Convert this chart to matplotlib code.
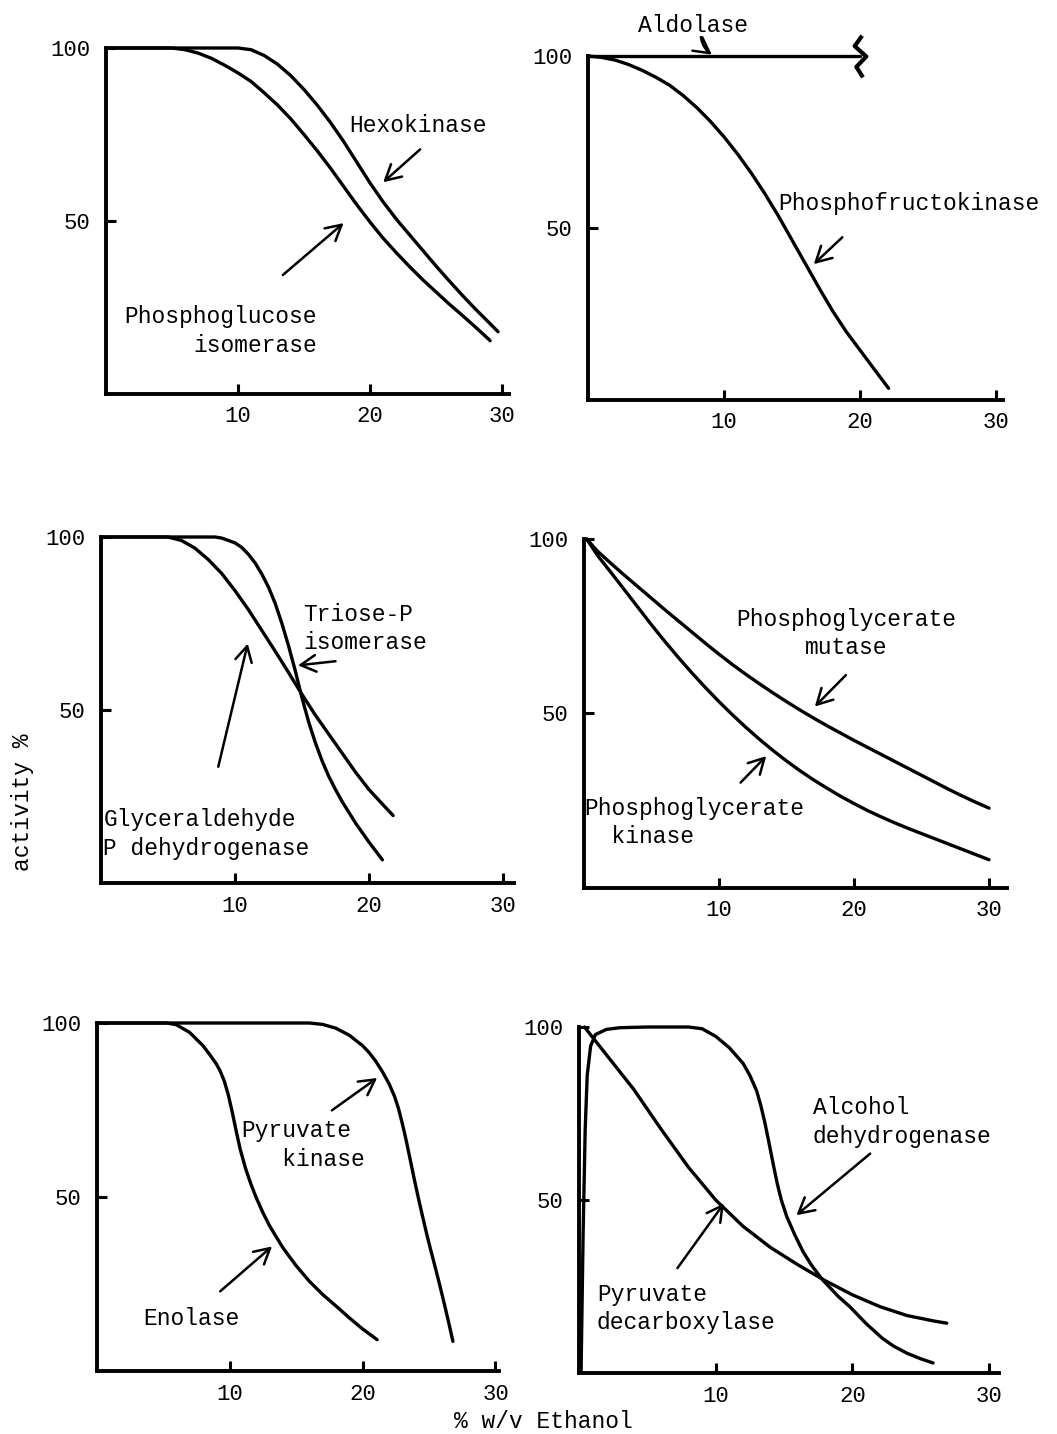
import matplotlib
matplotlib.use("Agg")
import matplotlib.pyplot as plt
from matplotlib.path import Path

plt.rcParams['font.family'] = ['Liberation Mono', 'DejaVu Sans Mono']

# ---------------- data ----------------
# Panel 1
hexo_x = [0, 5, 10, 11, 12, 13, 14, 15, 16, 17, 18, 19, 20, 21, 22, 23, 24, 25, 26, 27, 28, 29, 29.7]
hexo_y = [100, 100, 100, 99.5, 97.8, 95.3, 92, 88, 83.5, 78.5, 73, 67, 61, 55.5, 50.5, 46, 41.5, 37, 32.7, 28.5, 24.5, 20.7, 18]
pgi_x = [0, 5, 6, 7, 8, 9, 10, 11, 12, 13, 14, 15, 16, 17, 18, 19, 20, 21, 22, 23, 24, 25, 26, 27, 28, 29, 29.1]
pgi_y = [100, 100, 99.5, 98.5, 97, 95, 92.8, 90.3, 87, 83.5, 79.5, 75, 70.3, 65.3, 60, 54.7, 49.7, 45, 40.8, 36.8, 33, 29.5, 26, 22.7, 19.3, 15.8, 15.4]

# Panel 2
aldo_x = [0, 20]
aldo_y = [100, 100]
pfk_x = [0, 1, 2, 3, 4, 5, 6, 7, 8, 9, 10, 11, 12, 13, 14, 15, 16, 17, 18, 19, 20, 21, 22.1]
pfk_y = [100, 99.6, 98.8, 97.5, 95.8, 93.8, 91.5, 88.5, 85, 81, 76.5, 71.5, 66, 60, 53.5, 46.5, 39.5, 32.5, 25.8, 19.8, 14.5, 9.2, 3.4]

# Panel 3
tpi_x = [0, 8.5, 9, 10, 10.5, 11, 11.5, 12, 12.5, 13, 13.5, 14, 14.5, 15, 15.5, 16, 16.5, 17, 17.5, 18, 19, 20, 21]
tpi_y = [100, 100, 99.7, 98.3, 97, 95, 92.5, 89.3, 85.5, 80.8, 75, 68.5, 61.3, 53.5, 46.5, 40.5, 35.3, 30.8, 27, 23.5, 17.3, 11.8, 6.7]
gapdh_x = [0, 5, 6, 7, 8, 9, 10, 11, 12, 13, 14, 15, 16, 17, 18, 19, 20, 21, 21.8]
gapdh_y = [100, 100, 99, 96.8, 93.5, 89.5, 84.5, 79, 73, 67, 60.8, 54.5, 48.5, 43, 37.5, 32, 27, 22.8, 19.5]

# Panel 4
pgm_x = [0.2, 1, 2, 3, 4, 5, 6, 7, 8, 9, 10, 11, 12, 13, 14, 15, 16, 17, 18, 19, 20, 21, 22, 23, 24, 25, 26, 27, 28, 29, 30]
pgm_y = [100, 96.5, 93, 89.6, 86.3, 83, 79.7, 76.5, 73.3, 70.1, 67, 64, 61.2, 58.5, 55.9, 53.4, 51, 48.7, 46.5, 44.4, 42.3, 40.3, 38.3, 36.3, 34.3, 32.3, 30.3, 28.3, 26.4, 24.6, 22.9]
pgk_x = [0.2, 1, 2, 3, 4, 5, 6, 7, 8, 9, 10, 11, 12, 13, 14, 15, 16, 17, 18, 19, 20, 21, 22, 23, 24, 25, 26, 27, 28, 29, 30]
pgk_y = [100, 95.3, 90.4, 85.4, 80.4, 75.4, 70.6, 66, 61.6, 57.4, 53.4, 49.6, 46, 42.6, 39.4, 36.4, 33.6, 31, 28.6, 26.3, 24.2, 22.2, 20.4, 18.7, 17.1, 15.6, 14.1, 12.6, 11.1, 9.6, 8.1]

# Panel 5
eno_x = [0, 5.3, 6, 7, 8, 8.5, 9, 9.3, 9.6, 9.9, 10.2, 10.5, 10.8, 11.2, 11.6, 12, 12.5, 13, 14, 15, 16, 17, 18, 19, 20, 21.1]
eno_y = [100, 100, 99.5, 97.3, 93.5, 91, 88.3, 86.2, 83.4, 79.5, 74.5, 69, 63.8, 58.3, 53.8, 49.9, 45.6, 41.8, 35.5, 30.3, 25.8, 22, 18.7, 15.3, 12.1, 9]
pk_x = [0, 16, 17, 18, 19, 20, 20.5, 21, 21.5, 22, 22.4, 22.7, 23.0, 23.3, 23.6, 23.9, 24.2, 24.5, 24.8, 25.1, 25.4, 25.8, 26.2, 26.5, 26.8]
pk_y = [100, 100, 99.6, 98.5, 96.5, 93.5, 91.5, 89, 86, 82.5, 79, 75.5, 71, 66, 60.5, 55, 49.7, 44.7, 39.8, 35.2, 30.8, 24.8, 18.5, 13.6, 8.5]

# Panel 6
adh_x = [0.15, 0.3, 0.45, 0.6, 0.85, 1.2, 2, 3, 5, 8, 9, 10, 11, 12, 12.5, 13, 13.3, 13.6, 13.9, 14.2, 14.5, 14.8, 15.2, 15.8, 16.4, 17, 17.8, 19, 19.8, 21, 22.2, 23, 24, 25, 25.9]
adh_y = [0, 40, 70, 86, 94.5, 97.8, 99.3, 99.8, 100, 100, 99.5, 97.3, 94, 89.5, 86, 81.5, 77.3, 72.3, 66.5, 60.5, 54.8, 50, 45.2, 39.8, 35, 31.2, 27, 22, 19.2, 14.3, 10, 7.8, 5.7, 4.1, 2.9]
pdc_x = [0.4, 2, 4, 6, 8, 10, 12, 14, 16, 18, 20, 22, 24, 26, 26.9]
pdc_y = [100, 92, 82, 70.5, 59.5, 50, 42.4, 36.3, 31.3, 26.7, 22.6, 19.2, 16.6, 15, 14.4]

x_ticks = [10, 20, 30]
x_tick_labels = ['10', '20', '30']
y_ticks = [50, 100]
y_tick_labels = ['50', '100']

# ---------------- layout ----------------
W, H = 1057, 1434
fig = plt.figure(figsize=(W / 100, H / 100), dpi=100)

# (x0 px, baseline px, px per unit x, top(100) px, x max)
specs = [
    (106, 394, 13.2, 48, 30.5),
    (588, 400, 13.6, 56, 30.5),
    (101, 883, 13.4, 537, 30.8),
    (584, 888, 13.5, 539, 31.3),
    (96.5, 1371, 13.3, 1023, 30.3),
    (579, 1373, 13.67, 1027, 30.7),
]

CURVE_LW = 2.4
ARROW_LW = 1.8
FS = 16.5
TFS = 16

axes = []
for (x0, yb, xs, yt, xmax) in specs:
    ax = fig.add_axes([x0 / W, 1 - yb / H, xs * xmax / W, (yb - yt) / H])
    ax.set_xlim(0, xmax)
    ax.set_ylim(0, 100)
    for s in ['top', 'right']:
        ax.spines[s].set_visible(False)
    for s in ['left', 'bottom']:
        ax.spines[s].set_linewidth(2.8)
    ax.set_xticks(x_ticks)
    ax.set_xticklabels(x_tick_labels)
    ax.set_yticks(y_ticks)
    ax.set_yticklabels(y_tick_labels)
    ax.tick_params(axis='both', direction='in', length=7, width=2.2,
                   labelsize=TFS)
    ax.tick_params(axis='x', pad=9)
    ax.tick_params(axis='y', pad=11)
    ax.patch.set_visible(False)
    axes.append(ax)


def curve(ax, x, y, **kw):
    ax.plot(x, y, color='black', lw=CURVE_LW, clip_on=False,
            solid_capstyle='round', solid_joinstyle='round', **kw)


def arrow(ax, tail, head, rad=0.0):
    ax.annotate('', xy=head, xytext=tail, annotation_clip=False,
                arrowprops=dict(arrowstyle='->,head_length=0.55,head_width=0.3',
                                lw=ARROW_LW, color='black', mutation_scale=20,
                                shrinkA=0, shrinkB=0,
                                connectionstyle=f'arc3,rad={rad}'))


def label(ax, x, y, s, ha='left', ma=None):
    ax.text(x, y, s, ha=ha, va='center', fontsize=FS, linespacing=1.3,
            multialignment=ma or ha, clip_on=False)


# Panel 1
ax = axes[0]
curve(ax, hexo_x, hexo_y)
curve(ax, pgi_x, pgi_y)
label(ax, 23.6, 77.5, 'Hexokinase', ha='center')
arrow(ax, (23.8, 70.7), (21.0, 61.2))
label(ax, 16.0, 18.2, 'Phosphoglucose\nisomerase', ha='right')
arrow(ax, (13.4, 34.4), (18.0, 49.4))

# Panel 2
ax = axes[1]
break_marker = Path([(0.08, 1.0), (-0.28, 0.5), (0.28, 0.0), (-0.2, -0.5), (0.12, -1.0)],
                    [Path.MOVETO, Path.LINETO, Path.LINETO, Path.LINETO, Path.LINETO])
curve(ax, aldo_x, aldo_y)
ax.plot(aldo_x[-1:], aldo_y[-1:], marker=break_marker, ms=30, mew=3.0,
        mec='black', mfc='none', ls='none', clip_on=False)
curve(ax, pfk_x, pfk_y)
label(ax, 7.74, 109, 'Aldolase', ha='center')
arrow(ax, (8.3, 105.5), (9.1, 100.4), rad=0.2)
label(ax, 14.0, 57, 'Phosphofructokinase')
arrow(ax, (18.7, 47.3), (16.6, 39.5))

# Panel 3
ax = axes[2]
curve(ax, tpi_x, tpi_y)
curve(ax, gapdh_x, gapdh_y)
label(ax, 15.1, 73.6, 'Triose-P\nisomerase')
arrow(ax, (17.5, 64.1), (14.7, 62.9))
label(ax, 0.17, 14.2, 'Glyceraldehyde\nP dehydrogenase')
arrow(ax, (8.75, 33.6), (10.95, 69.2))

# Panel 4
ax = axes[3]
curve(ax, pgm_x, pgm_y)
curve(ax, pgk_x, pgk_y)
label(ax, 19.4, 72.9, 'Phosphoglycerate\nmutase', ha='center')
arrow(ax, (19.4, 61), (17.1, 52))
label(ax, 0.0, 18.8, 'Phosphoglycerate\n  kinase')
arrow(ax, (11.6, 30.2), (13.5, 37.8))

# Panel 5
ax = axes[4]
curve(ax, eno_x, eno_y)
curve(ax, pk_x, pk_y)
label(ax, 10.9, 65, 'Pyruvate\n   kinase')
arrow(ax, (17.7, 74.9), (21.1, 84.2))
label(ax, 7.1, 15.2, 'Enolase', ha='center')
arrow(ax, (9.3, 22.9), (13.2, 35.8))

# Panel 6
ax = axes[5]
curve(ax, adh_x, adh_y)
curve(ax, pdc_x, pdc_y)
label(ax, 17.1, 72.5, 'Alcohol\ndehydrogenase')
arrow(ax, (21.3, 63.4), (15.9, 45.6))
label(ax, 1.3, 18.7, 'Pyruvate\ndecarboxylase')
arrow(ax, (7.2, 30.3), (10.6, 49))

fig.text(22 / W, 1 - 802 / H, 'activity %', rotation=90, ha='center',
         va='center', fontsize=FS)
fig.text(543 / W, 1 - 1421 / H, '% w/v Ethanol', ha='center', va='center',
         fontsize=FS)

fig.savefig('out.png', dpi=100, facecolor='white')
